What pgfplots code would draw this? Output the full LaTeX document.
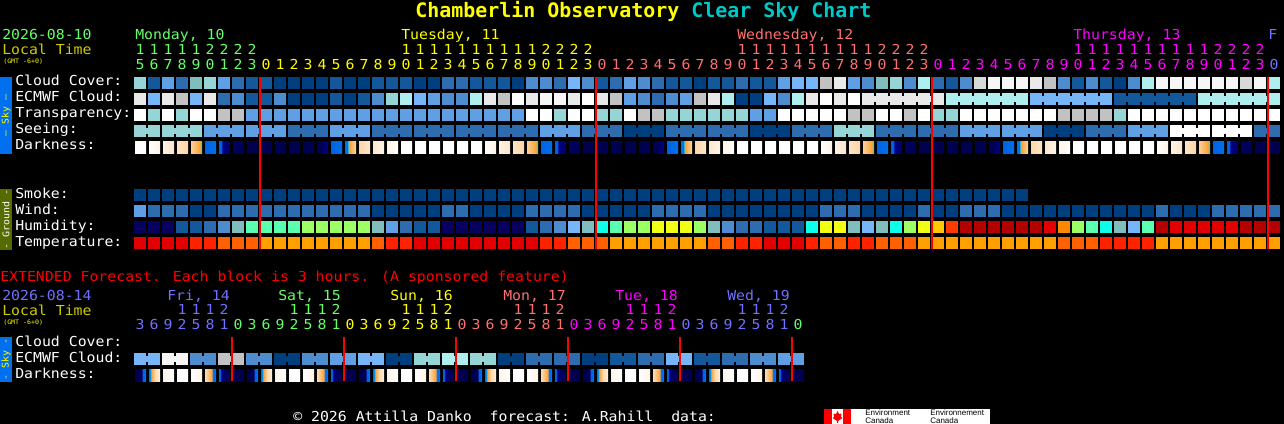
\documentclass[border=0pt]{standalone}
\usepackage{fontspec}
\usepackage{pgfplots}
\usepackage{pgfplotstable}
\pgfplotsset{compat=1.18}
\setmainfont[FakeStretch=1.08]{DejaVu Sans Mono}
\newfontfamily\titlefont{DejaVu Sans Mono}
\newfontfamily\logofont{Liberation Sans}

% palette: blues and greys
\definecolor{p0}{HTML}{003F7F}
\definecolor{p1}{HTML}{13589B}
\definecolor{p2}{HTML}{2C6CAF}
\definecolor{p3}{HTML}{4D8CCF}
\definecolor{p4}{HTML}{5F9FE3}
\definecolor{p5}{HTML}{76B6F8}
\definecolor{p6}{HTML}{80BEBE}
\definecolor{p7}{HTML}{95D5D5}
\definecolor{p8}{HTML}{AEEEEE}
\definecolor{p9}{HTML}{C2C2C2}
\definecolor{p10}{HTML}{D8D8D8}
\definecolor{p11}{HTML}{E9E9E9}
\definecolor{p12}{HTML}{F6F6F6}
\definecolor{p13}{HTML}{FFFFFF}
% humidity and temperature
\definecolor{p14}{HTML}{08005F}
\definecolor{p16}{HTML}{5AFFB0}
\definecolor{p17}{HTML}{9CFF64}
\definecolor{p18}{HTML}{F0FF14}
\definecolor{p19}{HTML}{0DFFE8}
\definecolor{p20}{HTML}{FFC800}
\definecolor{p21}{HTML}{FF3C00}
\definecolor{p22}{HTML}{B40000}
\definecolor{p23}{HTML}{E20000}
\definecolor{p24}{HTML}{FF8800}
\definecolor{p25}{HTML}{FF2200}
\definecolor{p26}{HTML}{FF6000}
\definecolor{p27}{HTML}{FFA000}
% darkness
\definecolor{cr1}{HTML}{FDF4E6}
\definecolor{cr2}{HTML}{FDE6CA}
\definecolor{cr3}{HTML}{FDD5A5}
\definecolor{or1}{HTML}{FFA030}
\definecolor{cy1}{HTML}{00E8FF}
\definecolor{bl1}{HTML}{0070F0}
\definecolor{bl2}{HTML}{0060E0}
\definecolor{nv1}{HTML}{000090}
\definecolor{nv2}{HTML}{000060}
\definecolor{nv3}{HTML}{000050}
% text
\definecolor{dgreen}{HTML}{66FF66}
\definecolor{dyellow}{HTML}{FFFF00}
\definecolor{dsalmon}{HTML}{FF7070}
\definecolor{dmag}{HTML}{FF00FF}
\definecolor{dblue}{HTML}{7070FF}
\definecolor{dolive}{HTML}{CCCC00}
\definecolor{dteal}{HTML}{00C8C8}
\definecolor{dground}{HTML}{556B00}

% 1 px = 0.75pt, cells are 12 px
\pgfdeclareplotmark{cell}{\pgfpathrectangle{\pgfpoint{-4.5pt}{-4.5pt}}{\pgfpoint{9pt}{9pt}}\pgfusepathqfill}
\pgfdeclareplotmark{link}{\pgfpathrectangle{\pgfpoint{-1.5pt}{-2.25pt}}{\pgfpoint{3pt}{4.5pt}}\pgfusepathqfill}
\newcommand\darkmark[2]{%
  \pgfdeclarehorizontalshading{s#1}{9pt}{#2}%
  \pgfdeclareplotmark{dk#1}{\pgftext{\pgfuseshading{s#1}}}}
\darkmark{30}{color(0pt)=(white); color(9pt)=(white)}
\darkmark{31}{color(0pt)=(white); color(9pt)=(cr1)}
\darkmark{32}{color(0pt)=(cr1); color(9pt)=(cr2)}
\darkmark{33}{color(0pt)=(cr2); color(9pt)=(cr3)}
\darkmark{34}{color(0pt)=(cr3); color(7.6pt)=(or1); color(8pt)=(or1); color(8.1pt)=(cy1); color(9pt)=(cy1)}
\darkmark{35}{color(0pt)=(bl2); color(9pt)=(bl1)}
\darkmark{36}{color(0pt)=(bl2); color(3pt)=(bl2); color(3.1pt)=(nv1); color(9pt)=(nv2)}
\darkmark{37}{color(0pt)=(nv2); color(9pt)=(nv3)}
\darkmark{38}{color(0pt)=(nv3); color(9pt)=(nv3)}
\darkmark{39}{color(0pt)=(nv3); color(4pt)=(nv3); color(9pt)=(nv1)}
\darkmark{40}{color(0pt)=(bl2); color(9pt)=(bl1)}
\darkmark{41}{color(0pt)=(bl1); color(2.5pt)=(bl1); color(3pt)=(cy1); color(4pt)=(or1); color(9pt)=(cr3)}
\darkmark{42}{color(0pt)=(cr3); color(9pt)=(cr2)}
\darkmark{43}{color(0pt)=(cr2); color(9pt)=(cr1)}
\darkmark{44}{color(0pt)=(cr1); color(9pt)=(white)}
\darkmark{50}{color(0pt)=(nv3); color(5.5pt)=(nv3); color(6pt)=(nv1); color(6.1pt)=(bl2); color(9pt)=(bl1)}
\darkmark{51}{color(0pt)=(bl1); color(1.5pt)=(bl1); color(2pt)=(cy1); color(2.5pt)=(or1); color(5pt)=(cr3); color(9pt)=(cr1)}
\darkmark{52}{color(0pt)=(cr1); color(9pt)=(white)}
\darkmark{53}{color(0pt)=(white); color(9pt)=(white)}
\darkmark{54}{color(0pt)=(white); color(9pt)=(cr1)}
\darkmark{55}{color(0pt)=(cr2); color(6pt)=(or1); color(6.2pt)=(bl1); color(9pt)=(bl1)}
\darkmark{56}{color(0pt)=(bl1); color(1.5pt)=(bl1); color(2pt)=(nv1); color(5pt)=(nv2); color(9pt)=(nv3)}
\darkmark{57}{color(0pt)=(nv3); color(9pt)=(nv3)}

\pgfplotsset{
  cells/.style={scatter, only marks, mark=cell, forget plot,
    point meta=explicit symbolic,
    scatter/classes={
      0={color=p0},1={color=p1},2={color=p2},3={color=p3},4={color=p4},5={color=p5},
      6={color=p6},7={color=p7},8={color=p8},9={color=p9},10={color=p10},11={color=p11},
      12={color=p12},13={color=p13},14={color=p14},16={color=p16},17={color=p17},
      18={color=p18},19={color=p19},20={color=p20},21={color=p21},22={color=p22},
      23={color=p23},24={color=p24},25={color=p25},26={color=p26},27={color=p27},
      30={mark=dk30},31={mark=dk31},32={mark=dk32},33={mark=dk33},34={mark=dk34},
      35={mark=dk35},36={mark=dk36},37={mark=dk37},38={mark=dk38},39={mark=dk39},
      40={mark=dk40},41={mark=dk41},42={mark=dk42},43={mark=dk43},44={mark=dk44},
      50={mark=dk50},51={mark=dk51},52={mark=dk52},53={mark=dk53},54={mark=dk54},
      55={mark=dk55},56={mark=dk56},57={mark=dk57},
      99={mark=none}}},
}

% one line per hour; values are palette levels, 99 = no block / no join to the next block
\pgfplotstableread{
c cc ec el tr se sl da sm wi hu te
0 7 11 99 13 7 7 30 0 4 14 23
1 1 5 99 7 7 99 31 0 2 14 23
2 4 11 99 13 7 7 32 0 2 14 23
3 2 9 99 7 7 7 33 0 2 1 23
4 6 5 99 13 7 99 34 0 0 1 25
5 7 11 99 13 4 4 35 0 0 2 25
6 4 2 99 9 4 4 36 0 2 3 26
7 2 3 99 9 4 99 37 0 2 6 26
8 1 1 99 4 4 4 38 0 2 16 26
9 1 1 99 4 4 4 38 0 2 16 27
10 0 3 99 4 4 99 38 0 2 16 27
11 0 0 99 4 2 2 38 0 2 16 27
12 0 0 99 4 2 2 38 0 2 17 27
13 0 0 99 4 2 99 39 0 2 17 27
14 1 1 99 4 4 4 40 0 2 17 27
15 0 0 99 4 4 4 41 0 2 17 27
16 0 1 99 4 4 99 42 0 2 17 27
17 1 3 99 4 2 2 43 0 0 6 26
18 1 7 99 4 2 2 44 0 0 4 25
19 1 8 99 4 2 99 30 0 0 2 25
20 0 5 99 4 2 2 30 0 0 1 23
21 0 4 99 4 2 2 30 0 0 1 23
22 2 3 99 4 2 99 30 0 2 14 23
23 2 3 99 4 2 2 30 0 2 14 23
24 1 8 99 4 2 2 30 0 0 14 23
25 1 11 99 4 2 99 31 0 0 14 23
26 1 9 99 4 2 2 32 0 0 14 23
27 0 13 99 4 2 2 33 0 0 14 23
28 3 11 99 13 2 99 34 0 2 1 23
29 3 12 99 13 4 4 35 0 2 2 25
30 2 12 99 7 4 4 36 0 2 3 25
31 5 11 99 13 4 99 37 0 2 5 26
32 3 13 99 13 2 2 38 0 0 6 26
33 1 11 99 7 2 2 38 0 0 19 26
34 2 9 99 7 2 99 38 0 0 16 27
35 4 4 99 13 0 0 38 0 0 17 27
36 3 3 99 9 0 0 38 0 0 17 27
37 2 2 99 9 0 99 39 0 2 18 27
38 1 3 99 7 2 2 40 0 2 18 27
39 1 4 99 7 2 2 41 0 2 18 27
40 0 9 99 7 2 99 42 0 2 17 27
41 1 11 99 7 2 2 43 0 0 6 26
42 1 8 99 7 2 2 44 0 0 3 26
43 2 0 99 7 2 99 30 0 0 2 25
44 1 0 99 4 0 0 30 0 0 2 25
45 1 5 99 4 0 0 30 0 0 1 23
46 4 3 99 13 0 99 30 0 0 1 23
47 5 8 99 13 2 2 30 0 0 1 23
48 5 11 99 13 2 2 30 0 0 19 25
49 9 13 99 13 2 99 31 0 2 18 26
50 11 11 99 13 7 7 32 0 2 18 26
51 4 13 99 9 7 7 33 0 2 6 25
52 3 11 11 9 7 99 34 0 0 5 25
53 6 11 11 13 2 2 35 0 0 6 26
54 7 11 11 13 2 2 36 0 0 19 26
55 3 11 11 9 2 99 37 0 0 17 26
56 8 11 11 13 2 2 38 0 2 18 27
57 2 11 99 7 2 2 38 0 0 20 27
58 1 8 8 7 2 99 38 0 0 21 27
59 3 8 8 13 4 4 38 0 2 22 27
60 10 8 8 13 4 4 38 0 2 22 27
61 12 8 8 13 4 99 39 0 2 22 27
62 12 8 8 13 4 4 40 0 0 22 27
63 12 8 99 13 4 4 41 0 0 22 27
64 11 5 5 13 4 99 42 99 0 22 27
65 9 5 5 13 0 0 43 99 0 23 27
66 3 5 5 9 0 0 44 99 0 24 26
67 1 5 5 9 0 99 30 99 0 17 26
68 3 5 5 9 2 2 30 99 0 16 26
69 1 5 99 9 2 2 30 99 0 19 25
70 0 1 1 7 2 99 30 99 0 6 25
71 3 1 1 13 4 4 30 99 0 5 25
72 8 1 1 13 4 4 30 99 0 16 25
73 12 1 1 13 4 99 31 99 2 22 27
74 12 1 1 13 13 13 32 99 0 23 27
75 12 1 99 13 13 13 33 99 0 23 27
76 12 8 8 13 13 99 34 99 0 23 27
77 12 8 8 13 13 13 35 99 2 23 27
78 12 8 8 13 13 13 36 99 2 23 27
79 10 8 8 13 13 99 37 99 2 22 27
80 12 8 8 13 2 2 38 99 2 22 27
81 8 8 99 13 2 99 38 99 2 22 27
}\hourly

% extended forecast, 3 hour blocks
\pgfplotstableread{
c ec el da
0 5 5 50
1 5 99 51
2 12 12 52
3 12 99 53
4 3 3 54
5 3 99 55
6 9 9 56
7 9 99 57
8 3 3 50
9 3 99 51
10 0 0 52
11 0 99 53
12 3 3 54
13 3 99 55
14 4 4 56
15 4 99 57
16 5 5 50
17 5 99 51
18 0 0 52
19 0 99 53
20 7 7 54
21 7 99 55
22 8 8 56
23 8 99 57
24 7 7 50
25 7 99 51
26 0 0 52
27 0 99 53
28 2 2 54
29 2 99 55
30 2 2 56
31 2 99 57
32 0 0 50
33 0 99 51
34 1 1 52
35 1 99 53
36 2 2 54
37 2 99 55
38 5 5 56
39 5 99 57
40 1 1 50
41 1 99 51
42 2 2 52
43 2 99 53
44 3 3 54
45 3 99 55
46 4 4 56
47 4 99 57
}\extended

\tikzset{
  txt/.style={anchor=base west, inner sep=0pt, text=white, font=\fontsize{10.3}{13}\selectfont},
  dg/.style={anchor=base, inner sep=0pt, font=\fontsize{10.3}{13}\selectfont},
  tiny/.style={anchor=base west, inner sep=0pt, text=dyellow, font=\fontsize{4.6}{6}\selectfont},
  bar/.style={rotate=90, inner sep=0pt, font=\fontsize{6.9}{9}\selectfont},
}

% #1 first column, #2 colour, #3 hours, #4 baseline of the units
\newcommand\hours[4]{%
  \foreach \h [count=\i from 0] in {#3}{
    \pgfmathtruncatemacro\un{mod(\h,10)}
    \pgfmathtruncatemacro\tn{\h/10}
    \pgfmathsetmacro\xx{140+14*(#1+\i)}
    \node[dg,text=#2] at (\xx,#4) {\un};
    \ifnum\tn>0 \node[dg,text=#2] at (\xx,#4-15) {\tn};\fi
  }}

\begin{document}
\begin{tikzpicture}[x=0.75pt,y=-0.75pt]
\fill[black] (0,0) rectangle (1284,424);
\useasboundingbox (0,0) rectangle (1284,424);

\begin{axis}[
  at={(0,0)}, anchor=north west,
  x=10.5pt, y=12pt, y dir=reverse,
  xmin=-10, xmax=81.7142857, ymin=-5.1875, ymax=21.3125,
  hide axis, clip=false, clip mode=individual,
]
  \addplot[cells] table[x=c,y expr=0,meta=cc] {\hourly};
  \addplot[cells] table[x=c,y expr=1,meta=ec] {\hourly};
  \addplot[cells,mark=link] table[x expr=\thisrow{c}+0.5,y expr=1,meta=el] {\hourly};
  \addplot[cells] table[x=c,y expr=2,meta=tr] {\hourly};
  \addplot[cells] table[x=c,y expr=3,meta=se] {\hourly};
  \addplot[cells,mark=link] table[x expr=\thisrow{c}+0.5,y expr=3,meta=sl] {\hourly};
  \addplot[cells] table[x=c,y expr=4,meta=da] {\hourly};
  \addplot[cells] table[x=c,y expr=7,meta=sm] {\hourly};
  \addplot[cells] table[x=c,y expr=8,meta=wi] {\hourly};
  \addplot[cells] table[x=c,y expr=9,meta=hu] {\hourly};
  \addplot[cells] table[x=c,y expr=10,meta=te] {\hourly};
  \addplot[cells] table[x=c,y expr=17.25,meta=ec] {\extended};
  \addplot[cells,mark=link] table[x expr=\thisrow{c}+0.5,y expr=17.25,meta=el] {\extended};
  \addplot[cells] table[x=c,y expr=18.25,meta=da] {\extended};
  % midnight lines
  \addplot[red,line width=1.5pt,forget plot,unbounded coords=jump] coordinates {
    (8.571,-0.375) (8.571,10.375) (nan,nan)
    (32.571,-0.375) (32.571,10.375) (nan,nan)
    (56.571,-0.375) (56.571,10.375) (nan,nan)
    (80.571,-0.375) (80.571,10.375) (nan,nan)
    (6.571,15.875) (6.571,18.625) (nan,nan)
    (14.571,15.875) (14.571,18.625) (nan,nan)
    (22.571,15.875) (22.571,18.625) (nan,nan)
    (30.571,15.875) (30.571,18.625) (nan,nan)
    (38.571,15.875) (38.571,18.625) (nan,nan)
    (46.571,15.875) (46.571,18.625)
  };
\end{axis}

% title
\node[anchor=base west,inner sep=0pt,font=\titlefont\fontsize{14.95}{17}\selectfont\bfseries,text=dyellow] at (415,18) {Chamberlin Observatory};
\node[anchor=base west,inner sep=0pt,font=\titlefont\fontsize{14.95}{17}\selectfont\bfseries,text=dteal] at (691,18) {Clear Sky Chart};

% hourly header
\node[txt,text=dgreen] at (2,40) {2026-08-10};
\node[txt,text=dolive] at (2,55) {Local Time};
\node[tiny] at (3,64) {(GMT -6+0)};
\node[txt,text=dgreen] at (135,40) {Monday, 10};
\node[txt,text=dyellow] at (401,40) {Tuesday, 11};
\node[txt,text=dsalmon] at (737,40) {Wednesday, 12};
\node[txt,text=dmag] at (1073,40) {Thursday, 13};
\node[txt,text=dblue] at (1268,40) {F};
\hours{0}{dgreen}{15,...,23}{70}
\hours{9}{dyellow}{0,...,23}{70}
\hours{33}{dsalmon}{0,...,23}{70}
\hours{57}{dmag}{0,...,23}{70}
\hours{81}{dblue}{0}{70}

% row labels
\node[txt] at (15,86) {Cloud Cover:};
\node[txt] at (15,102) {ECMWF Cloud:};
\node[txt] at (15,118) {Transparency:};
\node[txt] at (15,134) {Seeing:};
\node[txt] at (15,150) {Darkness:};
\node[txt] at (15,198) {Smoke:};
\node[txt] at (15,214) {Wind:};
\node[txt] at (15,230) {Humidity:};
\node[txt] at (15,246) {Temperature:};

% side bars
\fill[bl1] (0,77) rectangle (12,154);
\node[bar,text=dyellow] at (6,115.5) {--- Sky ---};
\fill[dground] (0,189) rectangle (12,250);
\node[bar,text=white] at (6,219.5) {- Ground -};
\fill[bl1] (0,337) rectangle (12,382);
\node[bar,text=dyellow] at (6,359.5) {- Sky -};

% extended header
\node[txt,text=red] at (0,281) {EXTENDED Forecast. Each block is 3 hours. (A sponsored feature)};
\node[txt,text=dblue] at (2,300) {2026-08-14};
\node[txt,text=dolive] at (2,315) {Local Time};
\node[tiny] at (3,324) {(GMT -6+0)};
\node[txt,text=dblue] at (167,300) {Fri, 14};
\node[txt,text=dgreen] at (278,300) {Sat, 15};
\node[txt,text=dyellow] at (390,300) {Sun, 16};
\node[txt,text=dsalmon] at (503,300) {Mon, 17};
\node[txt,text=dmag] at (615,300) {Tue, 18};
\node[txt,text=dblue] at (727,300) {Wed, 19};
\hours{0}{dblue}{3,6,9,12,15,18,21}{329}
\hours{7}{dgreen}{0,3,6,9,12,15,18,21}{329}
\hours{15}{dyellow}{0,3,6,9,12,15,18,21}{329}
\hours{23}{dsalmon}{0,3,6,9,12,15,18,21}{329}
\hours{31}{dmag}{0,3,6,9,12,15,18,21}{329}
\hours{39}{dblue}{0,3,6,9,12,15,18,21}{329}
\hours{47}{dgreen}{0}{329}
\node[txt] at (15,346) {Cloud Cover:};
\node[txt] at (15,362) {ECMWF Cloud:};
\node[txt] at (15,378) {Darkness:};

% footer
\node[txt] at (293,421) {© 2026 Attilla Danko\ \ forecast: A.Rahill\ \ data:};
\fill[white] (824,409) rectangle (990,424);
\fill[red] (824,409) rectangle (832,424);
\fill[red] (843,409) rectangle (851,424);
\fill[red] (837.5,411) -- (839,414) -- (841.5,413.5) -- (841,417) -- (842.5,418) -- (838,421) -- (838,423) -- (837,423) -- (837,421) -- (832.5,418) -- (834,417) -- (833.5,413.5) -- (836,414) -- cycle;
\node[anchor=base west,inner sep=0pt,text=black,font=\logofont\fontsize{6}{7}\selectfont] at (865,415.5) {Environment};
\node[anchor=base west,inner sep=0pt,text=black,font=\logofont\fontsize{6}{7}\selectfont] at (865,423) {Canada};
\node[anchor=base west,inner sep=0pt,text=black,font=\logofont\fontsize{6}{7}\selectfont] at (930,415.5) {Environnement};
\node[anchor=base west,inner sep=0pt,text=black,font=\logofont\fontsize{6}{7}\selectfont] at (930,423) {Canada};
\end{tikzpicture}
\end{document}
